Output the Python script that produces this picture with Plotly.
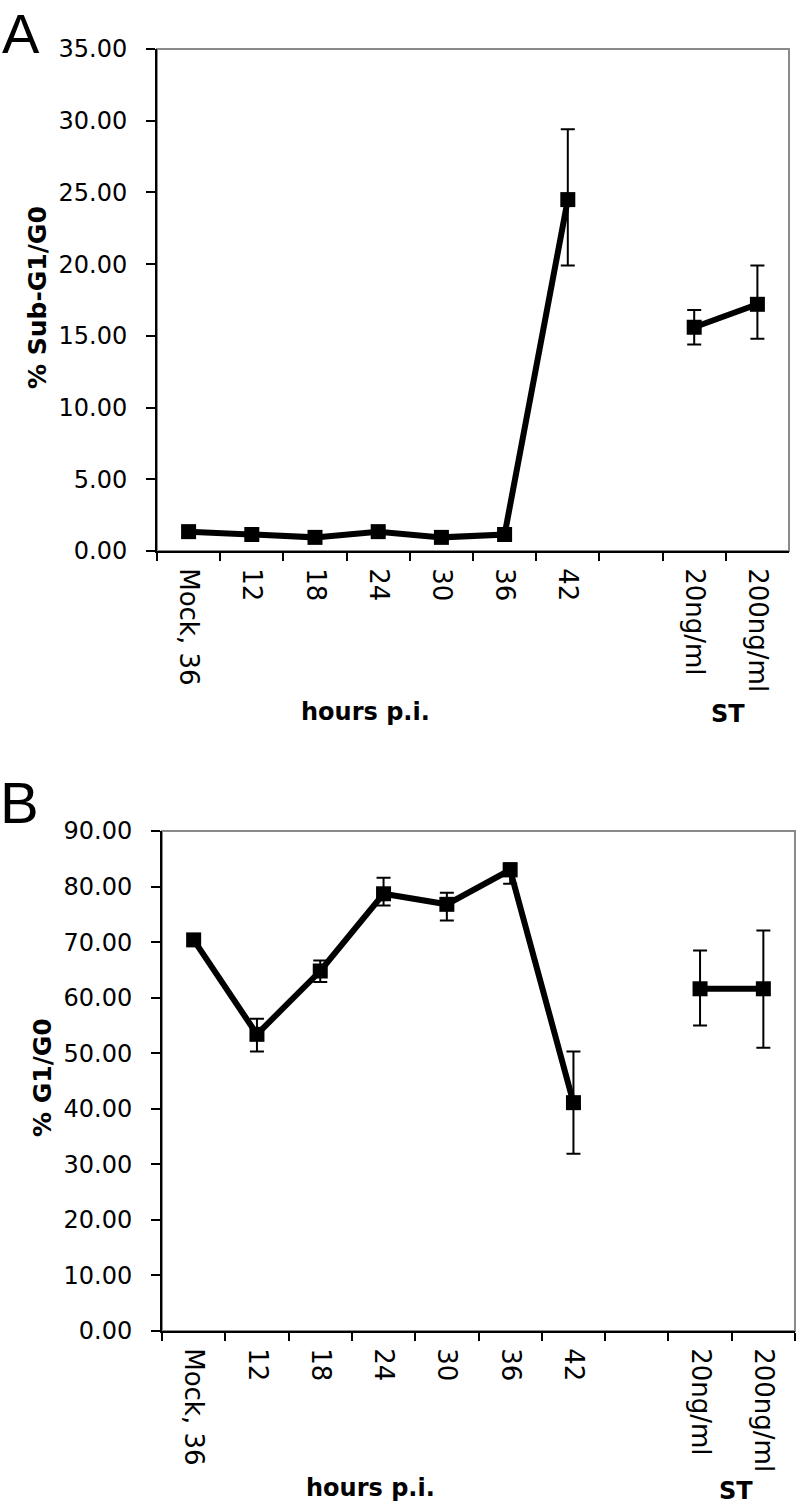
import plotly.graph_objects as go

W, H = 800, 1510

categories = ["Mock, 36", "12", "18", "24", "30", "36", "42", " ", "20ng/ml", "200ng/ml"]
time_cats = ["Mock, 36", "12", "18", "24", "30", "36", "42"]
st_cats = ["20ng/ml", "200ng/ml"]

# Panel A: % Sub-G1/G0
a_time_vals = [1.35, 1.15, 0.95, 1.35, 0.95, 1.15, 24.5]
a_time_err_plus = [0.3, 0.2, 0.2, 0.3, 0.2, 0.2, 4.9]
a_time_err_minus = [0.3, 0.2, 0.2, 0.3, 0.2, 0.2, 4.6]
a_st_vals = [15.6, 17.2]
a_st_err_plus = [1.2, 2.7]
a_st_err_minus = [1.2, 2.4]

# Panel B: % G1/G0
b_time_vals = [70.4, 53.4, 64.8, 78.7, 76.8, 83.0, 41.1]
b_time_err_plus = [1.0, 2.8, 1.9, 2.9, 2.1, 1.2, 9.2]
b_time_err_minus = [1.0, 3.1, 2.0, 2.1, 2.9, 2.5, 9.2]
b_st_vals = [61.6, 61.6]
b_st_err_plus = [6.9, 10.5]
b_st_err_minus = [6.6, 10.6]

y_ticks_a = [0, 5, 10, 15, 20, 25, 30, 35]
y_ticks_b = [0, 10, 20, 30, 40, 50, 60, 70, 80, 90]


def px(x):
    return x / W


def py(y):
    return 1 - y / H


fig = go.Figure()

line_style = dict(color="black", width=6)
marker_style = dict(symbol="square", size=15, color="black")


def err(plus, minus):
    return dict(type="data", array=plus, arrayminus=minus, visible=True,
                color="black", thickness=2, width=7)


fig.add_trace(go.Scatter(x=time_cats, y=a_time_vals, mode="lines+markers",
                         line=line_style, marker=marker_style,
                         error_y=err(a_time_err_plus, a_time_err_minus),
                         xaxis="x", yaxis="y", showlegend=False))
fig.add_trace(go.Scatter(x=st_cats, y=a_st_vals, mode="lines+markers",
                         line=line_style, marker=marker_style,
                         error_y=err(a_st_err_plus, a_st_err_minus),
                         xaxis="x", yaxis="y", showlegend=False))
fig.add_trace(go.Scatter(x=time_cats, y=b_time_vals, mode="lines+markers",
                         line=line_style, marker=marker_style,
                         error_y=err(b_time_err_plus, b_time_err_minus),
                         xaxis="x2", yaxis="y2", showlegend=False))
fig.add_trace(go.Scatter(x=st_cats, y=b_st_vals, mode="lines+markers",
                         line=line_style, marker=marker_style,
                         error_y=err(b_st_err_plus, b_st_err_minus),
                         xaxis="x2", yaxis="y2", showlegend=False))

ytick_font = dict(family="DejaVu Sans", size=24, color="black")
xtick_font = dict(family="DejaVu Sans", size=26, color="black")

xaxis_common = dict(type="category", categoryorder="array", categoryarray=categories,
                    range=[-0.5, len(categories) - 0.5], tickson="boundaries",
                    ticks="outside", ticklen=8, tickwidth=2, tickcolor="black",
                    showline=True, linecolor="black", linewidth=2,
                    showgrid=False, zeroline=False, tickangle=90,
                    tickfont=xtick_font, ticklabelstandoff=10, fixedrange=True,
                    automargin=False)
yaxis_common = dict(ticks="outside", ticklen=9, tickwidth=2, tickcolor="black",
                    showline=True, linecolor="black", linewidth=2,
                    showgrid=False, zeroline=False, tickformat=".2f",
                    tickfont=ytick_font, ticklabelstandoff=14, fixedrange=True,
                    automargin=False)

fig.update_layout(
    width=W, height=H,
    margin=dict(l=0, r=0, t=0, b=0, pad=0, autoexpand=False),
    paper_bgcolor="white", plot_bgcolor="white",
    xaxis=dict(domain=[px(157), px(789)], anchor="y", **xaxis_common),
    yaxis=dict(domain=[py(551), py(49)], anchor="x", range=[0, 35],
               tickvals=y_ticks_a, **yaxis_common),
    xaxis2=dict(domain=[px(162), px(795)], anchor="y2", **xaxis_common),
    yaxis2=dict(domain=[py(1331), py(831)], anchor="x2", range=[0, 90],
                tickvals=y_ticks_b, **yaxis_common),
)

for xr, yr in [("x", "y"), ("x2", "y2")]:
    fig.add_shape(type="rect", xref=f"{xr} domain", yref=f"{yr} domain",
                  x0=0, x1=1, y0=0, y1=1, line=dict(color="#8a8a8a", width=2),
                  layer="below")

title_font = dict(family="DejaVu Sans", size=24, color="black")
ann = [
    dict(text="A", x=px(21), y=py(0), yanchor="top",
         font=dict(family="Liberation Sans", size=56, color="black")),
    dict(text="B", x=px(19), y=py(802), yanchor="middle",
         font=dict(family="Liberation Sans", size=58, color="black")),
    dict(text="<b>% Sub-G1/G0</b>", x=px(38), y=py(298), textangle=-90, yanchor="middle",
         font=dict(family="DejaVu Sans", size=25, color="black")),
    dict(text="<b>% G1/G0</b>", x=px(42), y=py(1078), textangle=-90, yanchor="middle",
         font=dict(family="DejaVu Sans", size=25, color="black")),
    dict(text="<b>hours p.i.</b>", x=px(365), y=py(712), yanchor="middle", font=title_font),
    dict(text="<b>ST</b>", x=px(728), y=py(714), yanchor="middle", font=title_font),
    dict(text="<b>hours p.i.</b>", x=px(370), y=py(1488), yanchor="middle", font=title_font),
    dict(text="<b>ST</b>", x=px(736), y=py(1491), yanchor="middle", font=title_font),
]
for a in ann:
    fig.add_annotation(xref="paper", yref="paper", showarrow=False,
                       xanchor="center", **a)

fig.write_html("out.html", config={"displayModeBar": False},
               post_script="document.body.style.margin='0';document.body.style.overflow='hidden';")
